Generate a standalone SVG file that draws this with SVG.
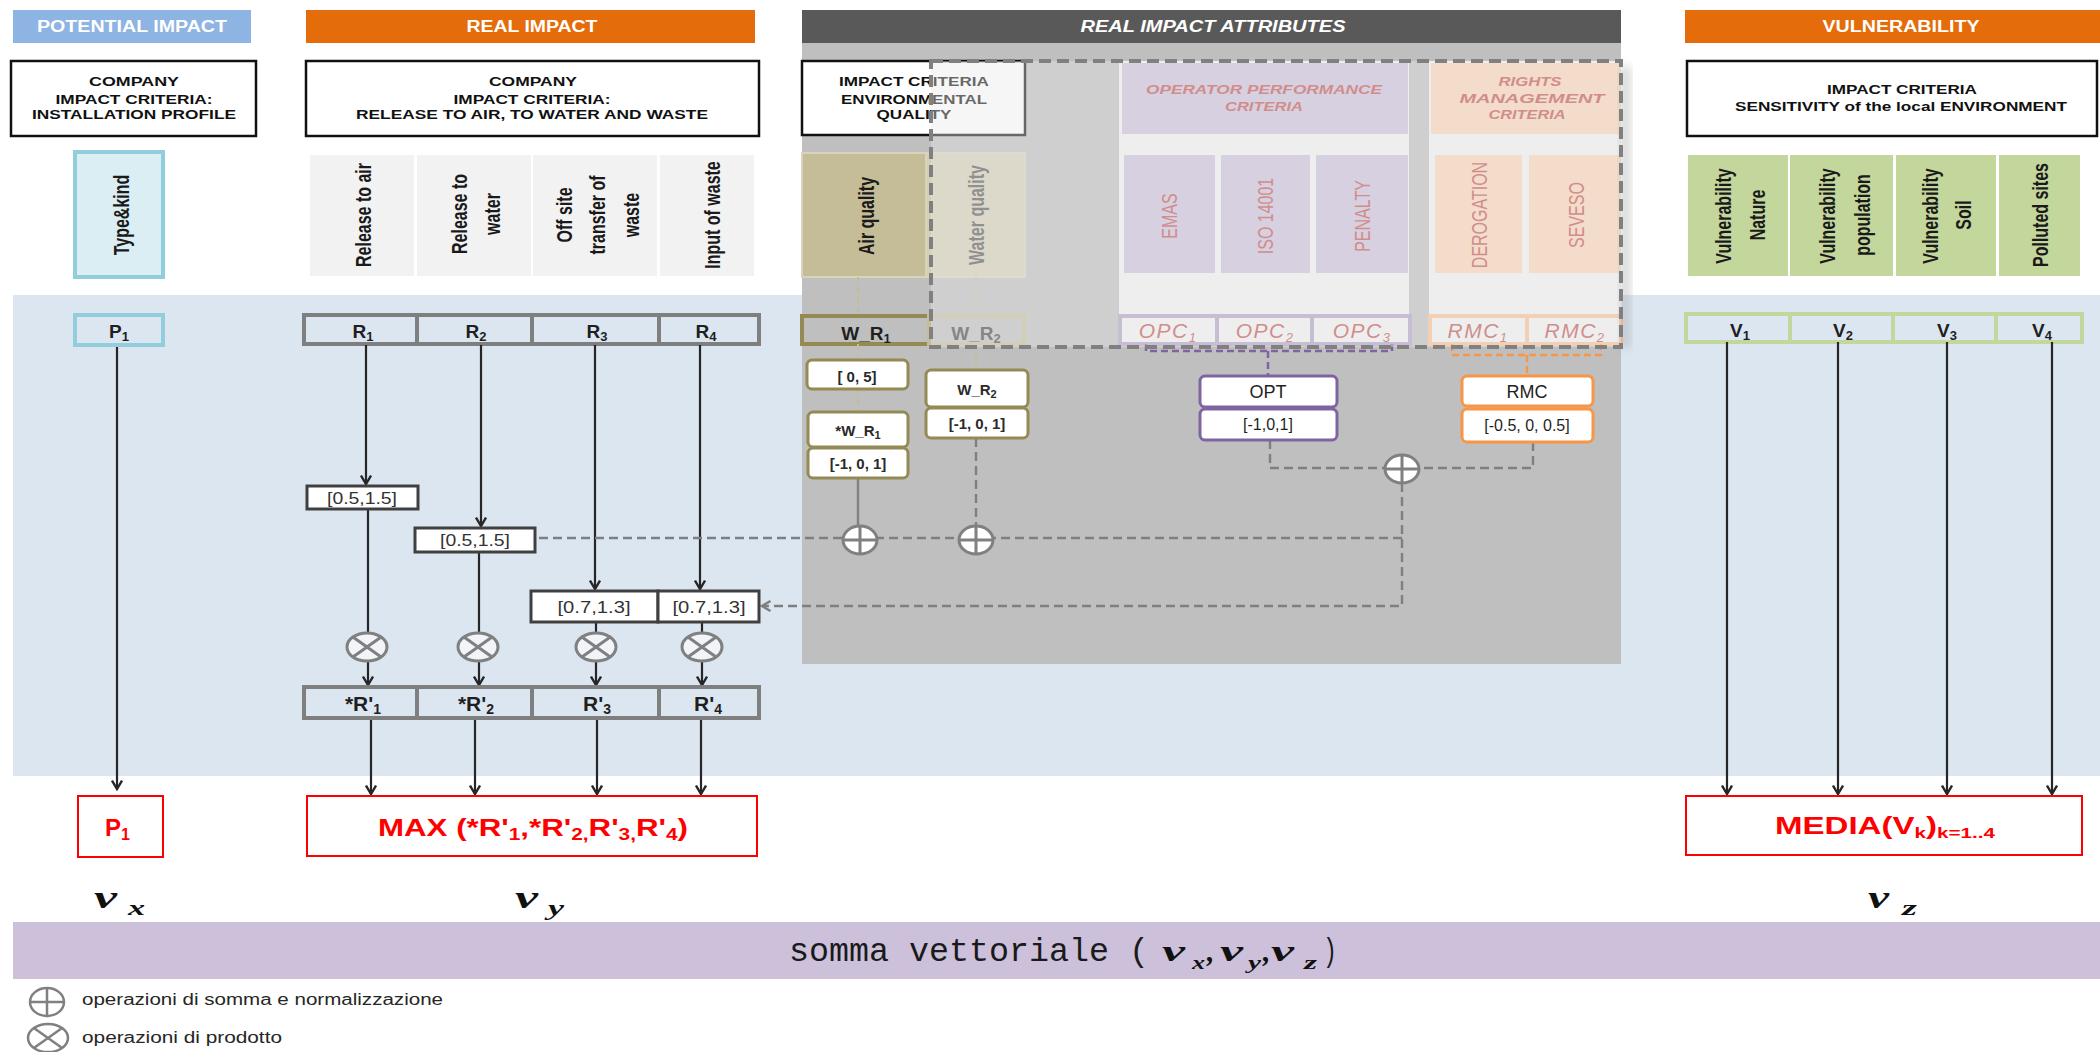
<svg xmlns="http://www.w3.org/2000/svg" width="2100" height="1052" viewBox="0 0 2100 1052">
  <defs>
    <style>
      text { font-family: 'Liberation Sans', Arial, sans-serif; }
      .hd { font-weight: bold; font-size: 16px; fill: #ffffff; text-anchor: middle; }
      .cr { font-weight: bold; font-size: 13px; fill: #111111; text-anchor: middle; }
      .crp { font-weight: bold; font-style: italic; font-size: 13px; fill: #c0504d; text-anchor: middle; }
      .rt { font-weight: bold; font-size: 16px; fill: #1a1a1a; text-anchor: middle; dominant-baseline: central; }
      .rp { font-size: 16px; fill: #c0504d; text-anchor: middle; dominant-baseline: central; }
      .cl { font-weight: bold; font-size: 19px; fill: #1f1f1f; text-anchor: middle; }
      .it { font-style: italic; font-size: 21px; fill: #c0504d; text-anchor: middle; letter-spacing: 1.5px; }
      .rg { font-size: 16px; fill: #333333; text-anchor: middle; }
      .rb { font-weight: bold; font-size: 15px; fill: #2a2a2a; text-anchor: middle; }
      .red { font-weight: bold; font-size: 24px; fill: #ff0000; }
      .vv { font-family: 'Liberation Serif', 'Times New Roman', serif; font-weight: bold; font-style: italic; fill: #111111; }
      .mono { font-family: 'Liberation Mono', 'Courier New', monospace; font-size: 34px; fill: #1a1a1a; }
      .lg { font-size: 16px; fill: #262626; }
      .ar { stroke: #262626; stroke-width: 2.2; fill: none; marker-end: url(#ah); }
      .ln { stroke: #262626; stroke-width: 2.2; fill: none; }
      .lgr { stroke: #808080; stroke-width: 2.4; fill: none; }
      .dg { stroke: #7f7f7f; stroke-width: 2.4; stroke-dasharray: 9 5; fill: none; }
      .dol { stroke: #c4bd97; stroke-width: 2; stroke-dasharray: 6 4; fill: none; }
      .dpu { stroke: #8064a2; stroke-width: 2.5; stroke-dasharray: 7 4; fill: none; }
      .dor { stroke: #f79646; stroke-width: 2.5; stroke-dasharray: 7 4; fill: none; }
      .rcell { fill: none; stroke: #7f7f7f; stroke-width: 4; }
      .vcell { fill: none; stroke: #c3d69b; stroke-width: 4; }
      .rng { fill: #ffffff; stroke: #404040; stroke-width: 3; }
      .outb { fill: none; stroke: #ff0000; stroke-width: 2; }
      .crit { fill: #ffffff; stroke: #111111; stroke-width: 2.5; }
      .opc { fill: #f2f2f2; stroke: #b3a2c7; stroke-width: 4; }
      .rmc { fill: #f2f2f2; stroke: #fac090; stroke-width: 4; }
      .wbx { fill: #ffffff; stroke: #948a54; stroke-width: 3; }
      .pbx { fill: #ffffff; stroke: #8064a2; stroke-width: 3; }
      .obx { fill: #ffffff; stroke: #f79646; stroke-width: 3; }
      .sym { stroke: #808080; stroke-width: 3; }
    </style>
    <marker id="ah" viewBox="0 0 12 12" refX="10" refY="6" markerWidth="12" markerHeight="12" markerUnits="userSpaceOnUse" orient="auto">
      <path d="M1.5,1 L10,6 L1.5,11" fill="none" stroke="#262626" stroke-width="2.4"/>
    </marker>
    <marker id="ahg" viewBox="0 0 12 12" refX="10" refY="6" markerWidth="12" markerHeight="12" markerUnits="userSpaceOnUse" orient="auto">
      <path d="M1.5,1 L10,6 L1.5,11" fill="none" stroke="#7f7f7f" stroke-width="2.4"/>
    </marker>
    <!-- sum-and-normalise operator -->
    <g id="plus">
      <ellipse rx="17" ry="14" fill="#ffffff" class="sym"/>
      <path d="M-17,0H17M0,-14V14" class="sym"/>
    </g>
    <!-- product operator -->
    <g id="times">
      <ellipse rx="20" ry="14" fill="#f1f4f9" class="sym"/>
      <path d="M-14.1,-9.9L14.1,9.9M-14.1,9.9L14.1,-9.9" class="sym"/>
    </g>
    <filter id="soft" x="-10%" y="-10%" width="120%" height="120%">
      <feGaussianBlur stdDeviation="4"/>
    </filter>
  </defs>

  <!-- backgrounds -->
  <rect width="2100" height="1052" fill="#ffffff"/>
  <rect x="13" y="295" width="2087" height="481" fill="#dce6f1"/>
  <rect x="13" y="922" width="2087" height="57" fill="#ccc0da"/>

  <!-- column headers -->
  <g id="hdr-potential">
    <rect x="13" y="10" width="238" height="33" fill="#8db4e2"/>
    <text class="hd" x="132" y="32" textLength="190" lengthAdjust="spacingAndGlyphs">POTENTIAL IMPACT</text>
  </g>
  <g id="hdr-real">
    <rect x="306" y="10" width="449" height="33" fill="#e46c0a"/>
    <text class="hd" x="532" y="32" textLength="131" lengthAdjust="spacingAndGlyphs">REAL IMPACT</text>
  </g>
  <g id="hdr-attributes">
    <rect x="802" y="10" width="819" height="33" fill="#595959"/>
    <text class="hd" x="1213" y="32" font-style="italic" textLength="265" lengthAdjust="spacingAndGlyphs">REAL IMPACT ATTRIBUTES</text>
  </g>
  <g id="hdr-vulnerability">
    <rect x="1685" y="10" width="415" height="33" fill="#e46c0a"/>
    <text class="hd" x="1901" y="32" textLength="157" lengthAdjust="spacingAndGlyphs">VULNERABILITY</text>
  </g>

  <!-- criteria boxes -->
  <g id="crit-installation">
    <rect x="11" y="61" width="245" height="75" class="crit"/>
    <text class="cr" x="134" y="86" textLength="90" lengthAdjust="spacingAndGlyphs">COMPANY</text>
    <text class="cr" x="134" y="104" textLength="157" lengthAdjust="spacingAndGlyphs">IMPACT CRITERIA:</text>
    <text class="cr" x="134" y="119" textLength="204" lengthAdjust="spacingAndGlyphs">INSTALLATION PROFILE</text>
  </g>
  <g id="crit-release">
    <rect x="306" y="61" width="453" height="75" class="crit"/>
    <text class="cr" x="533" y="86" textLength="88" lengthAdjust="spacingAndGlyphs">COMPANY</text>
    <text class="cr" x="532" y="104" textLength="157" lengthAdjust="spacingAndGlyphs">IMPACT CRITERIA:</text>
    <text class="cr" x="532" y="119" textLength="352" lengthAdjust="spacingAndGlyphs">RELEASE TO AIR, TO WATER AND WASTE</text>
  </g>
  <g id="crit-sensitivity">
    <rect x="1687" y="61" width="410" height="75" class="crit"/>
    <text class="cr" x="1902" y="94" textLength="150" lengthAdjust="spacingAndGlyphs">IMPACT CRITERIA</text>
    <text class="cr" x="1901" y="111" textLength="332" lengthAdjust="spacingAndGlyphs">SENSITIVITY of the local ENVIRONMENT</text>
  </g>

  <!-- installation profile item -->
  <g id="type-kind">
    <rect x="75" y="152" width="88" height="125" fill="#daeef3" stroke="#92cddc" stroke-width="4"/>
    <text class="rt" transform="translate(121,215) rotate(-90) scale(1,1.4)">Type&amp;kind</text>
  </g>

  <!-- release items -->
  <g id="item-air">
    <rect x="310" y="155" width="104" height="121" fill="#f2f2f2"/>
    <text class="rt" transform="translate(363,215) rotate(-90) scale(1,1.4)">Release to air</text>
  </g>
  <g id="item-water">
    <rect x="417" y="155" width="114" height="121" fill="#f2f2f2"/>
    <text class="rt" transform="translate(459,214) rotate(-90) scale(1,1.4)">Release to</text>
    <text class="rt" transform="translate(492,214) rotate(-90) scale(1,1.4)">water</text>
  </g>
  <g id="item-offsite">
    <rect x="533" y="155" width="124" height="121" fill="#f2f2f2"/>
    <text class="rt" transform="translate(564,215) rotate(-90) scale(1,1.4)">Off site</text>
    <text class="rt" transform="translate(597,215) rotate(-90) scale(1,1.4)">transfer of</text>
    <text class="rt" transform="translate(631,215) rotate(-90) scale(1,1.4)">waste</text>
  </g>
  <g id="item-input">
    <rect x="660" y="155" width="94" height="121" fill="#f2f2f2"/>
    <text class="rt" transform="translate(712,215) rotate(-90) scale(1,1.4)">Input of waste</text>
  </g>

  <!-- vulnerability items -->
  <g id="item-nature">
    <rect x="1688" y="155" width="100" height="121" fill="#c3d69b"/>
    <text class="rt" transform="translate(1723,216) rotate(-90) scale(1,1.4)">Vulnerability</text>
    <text class="rt" transform="translate(1757,215) rotate(-90) scale(1,1.4)">Nature</text>
  </g>
  <g id="item-population">
    <rect x="1790" y="155" width="103" height="121" fill="#c3d69b"/>
    <text class="rt" transform="translate(1827,216) rotate(-90) scale(1,1.4)">Vulnerability</text>
    <text class="rt" transform="translate(1862,215) rotate(-90) scale(1,1.4)">population</text>
  </g>
  <g id="item-soil">
    <rect x="1896" y="155" width="100" height="121" fill="#c3d69b"/>
    <text class="rt" transform="translate(1930,216) rotate(-90) scale(1,1.4)">Vulnerability</text>
    <text class="rt" transform="translate(1963,215) rotate(-90) scale(1,1.4)">Soil</text>
  </g>
  <g id="item-polluted">
    <rect x="1999" y="155" width="81" height="121" fill="#c3d69b"/>
    <text class="rt" transform="translate(2040,215) rotate(-90) scale(1,1.4)">Polluted sites</text>
  </g>

  <!-- attributes panel -->
  <rect x="802" y="43" width="819" height="621" fill="#bfbfbf"/>
  <g id="crit-environment">
    <rect x="802" y="61" width="223" height="74" class="crit"/>
    <text class="cr" x="914" y="86" textLength="150" lengthAdjust="spacingAndGlyphs">IMPACT CRITERIA</text>
    <text class="cr" x="914" y="104" textLength="146" lengthAdjust="spacingAndGlyphs">ENVIRONMENTAL</text>
    <text class="cr" x="914" y="119" textLength="75" lengthAdjust="spacingAndGlyphs">QUALITY</text>
  </g>
  <g id="item-airq">
    <rect x="802" y="153" width="124" height="124" fill="#c4bd97" stroke="#d8d4bc" stroke-width="2"/>
    <text class="rt" transform="translate(866,216) rotate(-90) scale(1,1.4)">Air quality</text>
  </g>
  <g id="item-waterq">
    <rect x="926" y="153" width="99" height="124" fill="#d4cfb6" stroke="#d8d4bc" stroke-width="2"/>
    <text class="rt" style="fill:#555555" transform="translate(976,215) rotate(-90) scale(1,1.4)">Water quality</text>
  </g>
  <g id="opc-panel">
    <rect x="1119" y="61" width="290" height="283" fill="#f2f2f2"/>
    <rect x="1122" y="63" width="286" height="71" fill="#ccc0da"/>
    <text class="crp" x="1264" y="94" textLength="236" lengthAdjust="spacingAndGlyphs">OPERATOR PERFORMANCE</text>
    <text class="crp" x="1264" y="111" textLength="78" lengthAdjust="spacingAndGlyphs">CRITERIA</text>
  </g>
  <g id="item-emas">
    <rect x="1124" y="155" width="91" height="118" fill="#ccc0da"/>
    <text class="rp" transform="translate(1169,216) rotate(-90) scale(1,1.4)">EMAS</text>
  </g>
  <g id="item-iso">
    <rect x="1221" y="155" width="89" height="118" fill="#ccc0da"/>
    <text class="rp" transform="translate(1265,216) rotate(-90) scale(1,1.4)">ISO 14001</text>
  </g>
  <g id="item-penalty">
    <rect x="1316" y="155" width="92" height="118" fill="#ccc0da"/>
    <text class="rp" transform="translate(1362,216) rotate(-90) scale(1,1.4)">PENALTY</text>
  </g>
  <g id="rmc-panel">
    <rect x="1429" y="61" width="192" height="283" fill="#f2f2f2"/>
    <rect x="1431" y="63" width="190" height="71" fill="#fbd4b4"/>
    <text class="crp" x="1530" y="86" textLength="63" lengthAdjust="spacingAndGlyphs">RIGHTS</text>
    <text class="crp" x="1532" y="103" textLength="145" lengthAdjust="spacingAndGlyphs">MANAGEMENT</text>
    <text class="crp" x="1527" y="119" textLength="77" lengthAdjust="spacingAndGlyphs">CRITERIA</text>
  </g>
  <g id="item-derogation">
    <rect x="1435" y="155" width="87" height="118" fill="#fbd4b4"/>
    <text class="rp" transform="translate(1479,215) rotate(-90) scale(1,1.4)">DEROGATION</text>
  </g>
  <g id="item-seveso">
    <rect x="1529" y="155" width="92" height="118" fill="#fbd4b4"/>
    <text class="rp" transform="translate(1576,215) rotate(-90) scale(1,1.4)">SEVESO</text>
  </g>

  <!-- indicator rows -->
  <g id="p1">
    <rect x="75" y="315" width="88" height="30" fill="none" stroke="#92cddc" stroke-width="4"/>
    <text class="cl" x="119" y="338">P<tspan font-size="13" dy="3">1</tspan></text>
  </g>
  <g id="r1"><rect x="304" y="315" width="113" height="29" class="rcell"/><text class="cl" x="363" y="338">R<tspan font-size="13" dy="3">1</tspan></text></g>
  <g id="r2"><rect x="417" y="315" width="115" height="29" class="rcell"/><text class="cl" x="476" y="338">R<tspan font-size="13" dy="3">2</tspan></text></g>
  <g id="r3"><rect x="532" y="315" width="127" height="29" class="rcell"/><text class="cl" x="597" y="338">R<tspan font-size="13" dy="3">3</tspan></text></g>
  <g id="r4"><rect x="659" y="315" width="100" height="29" class="rcell"/><text class="cl" x="706" y="338">R<tspan font-size="13" dy="3">4</tspan></text></g>

  <g id="w-r1">
    <rect x="802" y="316" width="127" height="28" fill="none" stroke="#948a54" stroke-width="4"/>
    <text class="cl" x="866" y="340">W_R<tspan font-size="13" dy="3">1</tspan></text>
  </g>
  <g id="w-r2">
    <rect x="929" y="316" width="95" height="28" fill="none" stroke="#c4bd97" stroke-width="4"/>
    <text class="cl" x="976" y="340" style="fill:#444444">W_R<tspan font-size="13" dy="3">2</tspan></text>
  </g>
  <g id="opc1"><rect x="1120" y="316" width="97" height="28" class="opc"/><text class="it" x="1168" y="338">OPC<tspan font-size="13" dy="4">1</tspan></text></g>
  <g id="opc2"><rect x="1217" y="316" width="95" height="28" class="opc"/><text class="it" x="1265" y="338">OPC<tspan font-size="13" dy="4">2</tspan></text></g>
  <g id="opc3"><rect x="1312" y="316" width="98" height="28" class="opc"/><text class="it" x="1362" y="338">OPC<tspan font-size="13" dy="4">3</tspan></text></g>
  <g id="rmc1"><rect x="1430" y="316" width="97" height="28" class="rmc"/><text class="it" x="1478" y="338" letter-spacing="2.5">RMC<tspan font-size="13" dy="4">1</tspan></text></g>
  <g id="rmc2"><rect x="1527" y="316" width="94" height="28" class="rmc"/><text class="it" x="1575" y="338" letter-spacing="2.5">RMC<tspan font-size="13" dy="4">2</tspan></text></g>

  <g id="v1"><rect x="1686" y="314" width="104" height="28" class="vcell"/><text class="cl" x="1740" y="337">V<tspan font-size="13" dy="3">1</tspan></text></g>
  <g id="v2"><rect x="1790" y="314" width="103" height="28" class="vcell"/><text class="cl" x="1843" y="337">V<tspan font-size="13" dy="3">2</tspan></text></g>
  <g id="v3"><rect x="1893" y="314" width="103" height="28" class="vcell"/><text class="cl" x="1947" y="337">V<tspan font-size="13" dy="3">3</tspan></text></g>
  <g id="v4"><rect x="1996" y="314" width="86" height="28" class="vcell"/><text class="cl" x="2042" y="337">V<tspan font-size="13" dy="3">4</tspan></text></g>

  <!-- connectors -->
  <g id="connectors">
    <!-- potential impact -->
    <path d="M117,347V789" class="ar"/>
    <!-- release columns -->
    <path d="M366,345V484" class="ar"/>
    <path d="M368,509V633" class="ln"/>
    <path d="M368,661V685" class="ar"/>
    <path d="M481,345V526" class="ar"/>
    <path d="M479,552V633" class="ln"/>
    <path d="M479,661V685" class="ar"/>
    <path d="M595,345V589" class="ar"/>
    <path d="M596,622V633" class="ln"/>
    <path d="M596,661V685" class="ar"/>
    <path d="M700,345V589" class="ar"/>
    <path d="M702,622V633" class="ln"/>
    <path d="M702,661V685" class="ar"/>
    <path d="M371,718V794" class="ar"/>
    <path d="M475,718V794" class="ar"/>
    <path d="M597,718V794" class="ar"/>
    <path d="M701,718V794" class="ar"/>
    <!-- vulnerability columns -->
    <path d="M1727,342V794" class="ar"/>
    <path d="M1838,342V794" class="ar"/>
    <path d="M1947,342V794" class="ar"/>
    <path d="M2052,342V794" class="ar"/>
    <!-- environmental quality chain -->
    <path d="M858,277V316M858,344V360M858,389V412" class="dol"/>
    <path d="M976,277V316M976,344V370" class="dol"/>
    <path d="M858,478V526" class="lgr"/>
    <path d="M976,438V526" class="dg"/>
    <!-- performance and rights brackets -->
    <path d="M1146,344V351H1392V344M1268,351V376" class="dpu"/>
    <path d="M1452,344V355H1601V344M1527,355V376" class="dor"/>
    <!-- attribute aggregation -->
    <path d="M1270,440V468H1385" class="dg"/>
    <path d="M1533,442V468H1419" class="dg"/>
    <path d="M1402,538H537" class="dg"/>
    <path d="M1402,483V606H762" class="dg" marker-end="url(#ahg)"/>
  </g>

  <!-- translucent frame around attribute criteria -->
  <g id="attr-frame">
    <rect x="1619" y="66" width="12" height="282" fill="#9a9a9a" opacity="0.35" filter="url(#soft)"/>
    <rect x="931" y="61" width="690" height="286" fill="#e8e8e8" fill-opacity="0.4" stroke="#808080" stroke-width="4" stroke-dasharray="12 6"/>
  </g>

  <!-- coefficient boxes -->
  <g id="rng-r1"><rect x="307" y="486" width="111" height="23" class="rng"/><text class="rg" x="362" y="504" textLength="70" lengthAdjust="spacingAndGlyphs">[0.5,1.5]</text></g>
  <g id="rng-r2"><rect x="415" y="528" width="120" height="24" class="rng"/><text class="rg" x="475" y="546" textLength="70" lengthAdjust="spacingAndGlyphs">[0.5,1.5]</text></g>
  <g id="rng-r3"><rect x="531" y="591" width="127" height="31" class="rng" stroke-width="4"/><text class="rg" x="594" y="613" textLength="73" lengthAdjust="spacingAndGlyphs">[0.7,1.3]</text></g>
  <g id="rng-r4"><rect x="658" y="591" width="101" height="31" class="rng" stroke-width="4"/><text class="rg" x="709" y="613" textLength="73" lengthAdjust="spacingAndGlyphs">[0.7,1.3]</text></g>

  <g id="w-r1-range">
    <rect x="807" y="360" width="101" height="29" rx="5" class="wbx"/>
    <text class="rb" x="857" y="382">[ 0, 5]</text>
  </g>
  <g id="w-r1-star">
    <rect x="808" y="412" width="100" height="35" rx="5" class="wbx"/>
    <text class="rb" x="858" y="436">*W_R<tspan font-size="11" dy="3">1</tspan></text>
    <rect x="808" y="448" width="100" height="30" rx="5" class="wbx"/>
    <text class="rb" x="858" y="469">[-1, 0, 1]</text>
  </g>
  <g id="w-r2-box">
    <rect x="926" y="370" width="102" height="37" rx="5" class="wbx"/>
    <text class="rb" x="977" y="395">W_R<tspan font-size="11" dy="3">2</tspan></text>
    <rect x="926" y="408" width="102" height="30" rx="5" class="wbx"/>
    <text class="rb" x="977" y="429">[-1, 0, 1]</text>
  </g>
  <g id="opt">
    <rect x="1200" y="376" width="137" height="31" rx="5" class="pbx"/>
    <text class="rg" x="1268" y="398" style="font-size:18px;fill:#1f1f1f">OPT</text>
    <rect x="1200" y="409" width="137" height="31" rx="5" class="pbx"/>
    <text class="rg" x="1268" y="430" style="fill:#1f1f1f">[-1,0,1]</text>
  </g>
  <g id="rmc">
    <rect x="1462" y="376" width="131" height="30" rx="5" class="obx"/>
    <text class="rg" x="1527" y="398" style="font-size:18px;fill:#1f1f1f">RMC</text>
    <rect x="1462" y="409" width="131" height="33" rx="5" class="obx"/>
    <text class="rg" x="1527" y="431" style="fill:#1f1f1f">[-0.5, 0, 0.5]</text>
  </g>

  <!-- operators -->
  <use href="#plus" x="1402" y="469"/>
  <use href="#plus" x="860" y="540"/>
  <use href="#plus" x="976" y="540"/>
  <use href="#times" x="367" y="647"/>
  <use href="#times" x="478" y="647"/>
  <use href="#times" x="596" y="647"/>
  <use href="#times" x="702" y="647"/>

  <!-- weighted release row -->
  <g id="rp1"><rect x="304" y="687" width="113" height="31" class="rcell"/><text class="cl" x="363" y="711" style="font-size:21px">*R'<tspan font-size="14" dy="3">1</tspan></text></g>
  <g id="rp2"><rect x="417" y="687" width="115" height="31" class="rcell"/><text class="cl" x="476" y="711" style="font-size:21px">*R'<tspan font-size="14" dy="3">2</tspan></text></g>
  <g id="rp3"><rect x="532" y="687" width="127" height="31" class="rcell"/><text class="cl" x="597" y="711" style="font-size:21px">R'<tspan font-size="14" dy="3">3</tspan></text></g>
  <g id="rp4"><rect x="659" y="687" width="100" height="31" class="rcell"/><text class="cl" x="708" y="711" style="font-size:21px">R'<tspan font-size="14" dy="3">4</tspan></text></g>

  <!-- outputs -->
  <g id="out-p1">
    <rect x="78" y="796" width="85" height="61" class="outb"/>
    <text class="red" x="105" y="836">P<tspan font-size="16" dy="4">1</tspan></text>
  </g>
  <g id="out-max">
    <rect x="307" y="796" width="450" height="60" class="outb"/>
    <text class="red" x="378" y="836" textLength="310" lengthAdjust="spacingAndGlyphs">MAX (*R'<tspan font-size="16" dy="4">1</tspan><tspan dy="-4">,*R'</tspan><tspan font-size="16" dy="4">2,</tspan><tspan dy="-4">R'</tspan><tspan font-size="16" dy="4">3,</tspan><tspan dy="-4">R'</tspan><tspan font-size="16" dy="4">4</tspan><tspan dy="-4">)</tspan></text>
  </g>
  <g id="out-media">
    <rect x="1686" y="796" width="396" height="59" class="outb"/>
    <text class="red" x="1775" y="834" textLength="220" lengthAdjust="spacingAndGlyphs">MEDIA(V<tspan font-size="15" dy="4">k</tspan><tspan dy="-4">)</tspan><tspan font-size="15" dy="4">k=1..4</tspan></text>
  </g>

  <!-- vector components -->
  <g id="vx">
    <text class="vv" x="94" y="908" font-size="32" textLength="23" lengthAdjust="spacingAndGlyphs">v</text>
    <text class="vv" x="128" y="915" font-size="20" textLength="17" lengthAdjust="spacingAndGlyphs">x</text>
  </g>
  <g id="vy">
    <text class="vv" x="515" y="908" font-size="32" textLength="23" lengthAdjust="spacingAndGlyphs">v</text>
    <text class="vv" x="548" y="915" font-size="20" textLength="16" lengthAdjust="spacingAndGlyphs">y</text>
  </g>
  <g id="vz">
    <text class="vv" x="1868" y="908" font-size="32" textLength="21" lengthAdjust="spacingAndGlyphs">v</text>
    <text class="vv" x="1902" y="915" font-size="20" textLength="15" lengthAdjust="spacingAndGlyphs">z</text>
  </g>

  <!-- vector sum -->
  <g id="vector-sum">
    <text class="mono" x="789" y="961" textLength="360" lengthAdjust="spacingAndGlyphs">somma vettoriale (</text>
    <text class="vv" x="1162" y="961" font-size="30" textLength="23" lengthAdjust="spacingAndGlyphs">v</text>
    <text class="vv" x="1192" y="969" font-size="18" textLength="13" lengthAdjust="spacingAndGlyphs">x</text>
    <text class="vv" x="1207" y="961" font-size="30">,</text>
    <text class="vv" x="1220" y="961" font-size="30" textLength="23" lengthAdjust="spacingAndGlyphs">v</text>
    <text class="vv" x="1248" y="969" font-size="18" textLength="13" lengthAdjust="spacingAndGlyphs">y</text>
    <text class="vv" x="1263" y="961" font-size="30">,</text>
    <text class="vv" x="1271" y="961" font-size="30" textLength="23" lengthAdjust="spacingAndGlyphs">v</text>
    <text class="vv" x="1304" y="969" font-size="18" textLength="13" lengthAdjust="spacingAndGlyphs">z</text>
    <text class="mono" x="1323" y="961" textLength="14" lengthAdjust="spacingAndGlyphs">)</text>
  </g>

  <!-- legend -->
  <g id="legend">
    <g transform="translate(47,1002)">
      <ellipse rx="17" ry="14" fill="none" stroke="#808080" stroke-width="2.5"/>
      <path d="M-17,0H17M0,-14V14" stroke="#808080" stroke-width="2.5"/>
    </g>
    <text class="lg" x="82" y="1005" textLength="361" lengthAdjust="spacingAndGlyphs">operazioni di somma e normalizzazione</text>
    <g transform="translate(48,1038)">
      <ellipse rx="20" ry="14" fill="none" stroke="#808080" stroke-width="2.5"/>
      <path d="M-14.1,-9.9L14.1,9.9M-14.1,9.9L14.1,-9.9" stroke="#808080" stroke-width="2.5"/>
    </g>
    <text class="lg" x="82" y="1043" textLength="200" lengthAdjust="spacingAndGlyphs">operazioni di prodotto</text>
  </g>
</svg>
